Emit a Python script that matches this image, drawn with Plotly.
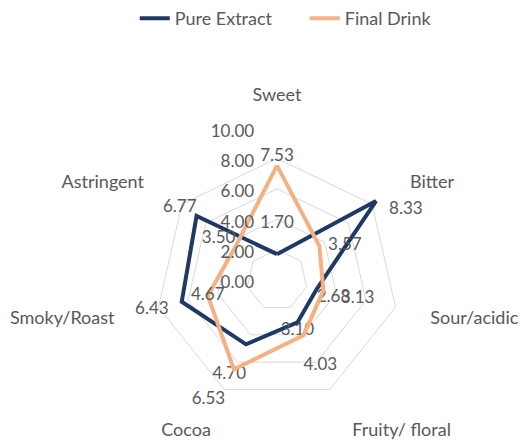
import plotly.graph_objects as go

categories = ["Sweet", "Bitter", "Sour/acidic", "Fruity/ floral", "Cocoa", "Smoky/Roast", "Astringent"]
pure_extract = [1.70, 8.33, 2.68, 3.10, 4.70, 6.43, 6.77]
final_drink = [7.53, 3.57, 3.13, 4.03, 6.53, 4.67, 3.50]
radial_ticks = [0, 2, 4, 6, 8, 10]

# label placement (styling only)
NB = "\u00a0"
pe_pos = ["top center", "bottom right", "bottom right", "bottom center", "bottom left", "bottom left", "top left"]
pe_pre = ["", NB * 3, "", "", "<br>", "", ""]
pe_post = ["<br>", "", "", "", "", NB * 3, ""]
fd_pos = ["top center", "middle right", "bottom right", "bottom right", "bottom left", "middle center", "top left"]
fd_pre = ["", NB * 2, NB * 4, "<br>", "<br>", "", ""]
fd_post = ["", "", "", "", NB * 2, "", ""]
cat_pad_before = ["", NB * 3, NB, NB * 2, "", "", ""]
cat_pad_after = ["<br>" + NB, "", "", "", "", NB * 3, NB * 3]

font_family = "Lato, 'Open Sans', sans-serif"
grey = "#595959"


def labels(values, prefix, postfix):
    return [p + f"{v:.2f}" + q for p, v, q in zip(prefix, values, postfix)] + [""]


fig = go.Figure()
fig.add_trace(go.Scatterpolar(
    r=pure_extract + pure_extract[:1], theta=categories + categories[:1],
    mode="lines+text", name="Pure Extract",
    line=dict(color="#1F3864", width=4),
    text=labels(pure_extract, pe_pre, pe_post),
    textposition=pe_pos + ["top center"],
    textfont=dict(family=font_family, size=17, color=grey),
))
fig.add_trace(go.Scatterpolar(
    r=final_drink + final_drink[:1], theta=categories + categories[:1],
    mode="lines+text", name="Final Drink",
    line=dict(color="#F4B183", width=4),
    text=labels(final_drink, fd_pre, fd_post),
    textposition=fd_pos + ["top center"],
    textfont=dict(family=font_family, size=17, color=grey),
))

fig.update_layout(
    width=530, height=440,
    margin=dict(l=0, r=0, t=0, b=0),
    paper_bgcolor="white",
    font=dict(family=font_family, size=17, color=grey),
    showlegend=True,
    legend=dict(orientation="h", x=0.575, xanchor="center", y=1.0, yanchor="top",
                entrywidth=125, entrywidthmode="pixels",
                font=dict(size=18, color=grey)),
    polar=dict(
        domain=dict(x=[0.2359, 0.8094], y=[0.0182, 0.7091]),
        bgcolor="white",
        gridshape="linear",
        angularaxis=dict(direction="clockwise", rotation=90, showgrid=False,
                         showline=False, ticks="",
                         tickmode="array", tickvals=categories,
                         ticktext=[a + c + b for a, c, b in zip(cat_pad_before, categories, cat_pad_after)],
                         tickfont=dict(size=18, color=grey)),
        radialaxis=dict(range=[0, 10], tickvals=radial_ticks, tickformat=".2f",
                        angle=90, side="counterclockwise", showline=False,
                        ticks="outside", ticklen=7, tickcolor="rgba(0,0,0,0)",
                        gridcolor="#d9d9d9", gridwidth=1,
                        tickfont=dict(size=17, color=grey)),
    ),
)
fig.write_html("out.html", config={"displayModeBar": False},
               post_script="document.body.style.margin='0px';")
